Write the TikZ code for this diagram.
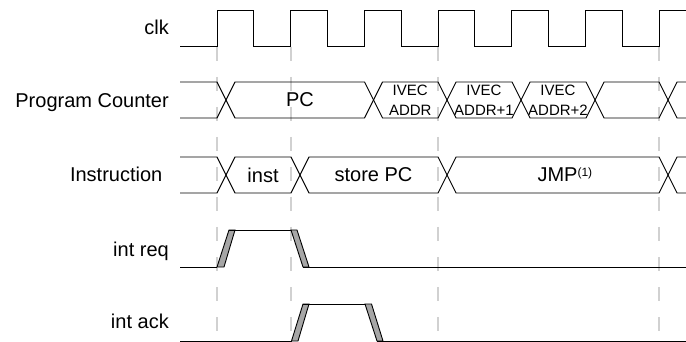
\documentclass[tikz,border=0pt]{standalone}
\usepackage{fontspec}
\setmainfont{Liberation Sans}
\begin{document}
\begin{tikzpicture}[x=1pt,y=-1pt,
  sig/.style={line width=0.9pt, black},
  edgeline/.style={line width=2pt, black!18, dash pattern=on 14pt off 16pt},
  band/.style={line width=0.9pt, draw=black, fill=black!35},
  lbl/.style={anchor=base east, inner sep=0pt, font=\fontsize{20}{24}\selectfont},
  val/.style={inner sep=0pt, font=\fontsize{20}{24}\selectfont},
  sval/.style={inner sep=0pt, align=center, font=\fontsize{15}{19.5}\selectfont}]

  \useasboundingbox (0,0) rectangle (686,342);

  \foreach \x in {217,291,438,659}
    \draw[edgeline] (\x,47) -- (\x,342);

  \node[lbl] (clk) at (169,34.5) {clk};
  \node[lbl] (pcl) at (169,108) {Program Counter};
  \node[lbl] (ins) at (162.5,181.5) {Instruction};
  \node[lbl] (req) at (169,256.5) {int req};
  \node[lbl] (ack) at (169,328) {int ack};

  % clock
  \draw[sig] (180,46) \foreach \k in {0,...,5} {
      -- ({217+73.67*\k},46) -- ({217+73.67*\k},10)
      -- ({253.83+73.67*\k},10) -- ({253.83+73.67*\k},46) }
    -- (659,46) -- (659,10) -- (686,10);

  % program counter
  \draw[sig] (180,82) -- (217,82) -- (226,100) -- (217,118) -- (180,118);
  \foreach \a/\b in {226/373.5,373.5/447,447/521,521/595,595/668}
    \draw[sig] (\a,100) -- (\a+9,82) -- (\b-9,82) -- (\b,100)
      -- (\b-9,118) -- (\a+9,118) -- cycle;
  \draw[sig] (686,82) -- (677,82) -- (668,100) -- (677,118) -- (686,118);
  \node[val] (pc) at (300,100) {PC};
  \node[sval] (iv0) at (410.25,100.5) {IVEC\\ADDR};
  \node[sval] (iv1) at (484,100.5) {IVEC\\ADDR+1};
  \node[sval] (iv2) at (558,100.5) {IVEC\\ADDR+2};

  % instruction
  \draw[sig] (180,157) -- (217,157) -- (226,175) -- (217,193) -- (180,193);
  \foreach \a/\b in {226/300,300/447,447/668}
    \draw[sig] (\a,175) -- (\a+9,157) -- (\b-9,157) -- (\b,175)
      -- (\b-9,193) -- (\a+9,193) -- cycle;
  \draw[sig] (686,157) -- (677,157) -- (668,175) -- (677,193) -- (686,193);
  \node[val] (inst) at (263,175) {inst};
  \node[val] (spc) at (373.5,175) {store PC};
  \node[val] (jmp) at (557.5,175)
    {JMP\rlap{\raisebox{5pt}{\fontsize{12}{12}\selectfont(1)}}};

  % int req
  \draw[sig] (180,267) -- (217,267);
  \draw[band] (217,267) -- (224,267) -- (235,230) -- (229,230) -- cycle;
  \draw[sig] (229,230) -- (291,230);
  \draw[band] (291,230) -- (297,230) -- (309,267) -- (303,267) -- cycle;
  \draw[sig] (303,267) -- (686,267);

  % int ack
  \draw[sig] (180,341) -- (291.5,341);
  \draw[band] (291.5,341) -- (298,341) -- (309,304) -- (303,304) -- cycle;
  \draw[sig] (303,304) -- (365,304);
  \draw[band] (365,304) -- (371.5,304) -- (383,341) -- (377,341) -- cycle;
  \draw[sig] (377,341) -- (686,341);
\end{tikzpicture}
\end{document}
